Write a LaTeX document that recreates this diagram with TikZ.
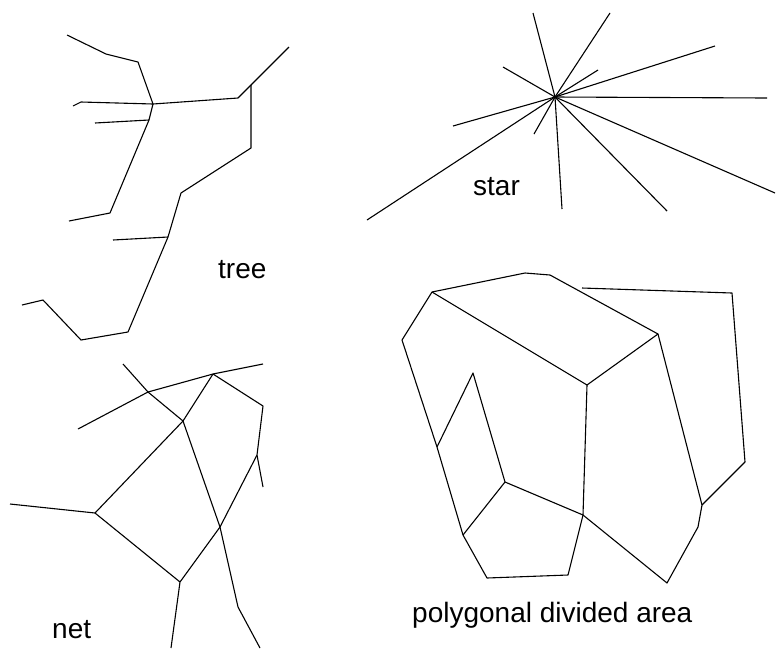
\documentclass[tikz,border=0pt]{standalone}
\usepackage{fontspec}
\setmainfont{Liberation Sans}
\begin{document}
\begin{tikzpicture}[x=1pt,y=-1pt,
  edge/.style={draw=black,line width=1.1pt,line join=round},
  lbl/.style={font=\fontsize{28}{32}\selectfont,inner sep=0pt,anchor=base west}]
\useasboundingbox (0,0) rectangle (776,649);
% ---------------- tree ----------------
\coordinate (t1) at (67,35);   \coordinate (t2) at (106,54);
\coordinate (t3) at (138,62);  \coordinate (tj) at (153,104);
\coordinate (t4) at (73,106);  \coordinate (t5) at (81,102);
\coordinate (t6) at (238,98);  \coordinate (tk) at (251,85);
\coordinate (t7) at (289,47);  \coordinate (t8) at (251,148);
\coordinate (t9) at (181,193); \coordinate (tm) at (168,237);
\coordinate (t10) at (128,332);\coordinate (t11) at (81,340);
\coordinate (t12) at (43,300); \coordinate (t13) at (22,305);
\coordinate (t14) at (113,240);\coordinate (tn) at (149,120);
\coordinate (t15) at (110,213);\coordinate (t16) at (69,221);
\coordinate (t17) at (95,123);
\draw[edge] (t1) -- (t2) -- (t3) -- (tj);
\draw[edge] (t4) -- (t5) -- (tj) -- (t6) -- (tk) -- (t7);
\draw[edge] (tk) -- (t8) -- (t9) -- (tm) -- (t10) -- (t11) -- (t12) -- (t13);
\draw[edge] (t14) -- (tm);
\draw[edge] (tj) -- (tn) -- (t15) -- (t16);
\draw[edge] (t17) -- (tn);
\node[lbl] (treelbl) at (218,278) {tree};
% ---------------- star ----------------
\coordinate (sc) at (555,97);
\coordinate (s1) at (533,13);  \coordinate (s2) at (610,13);
\coordinate (s3) at (715,46);  \coordinate (s4) at (598,70);
\coordinate (s5) at (767,98);  \coordinate (s6) at (775,193);
\coordinate (s7) at (667,211); \coordinate (s8) at (562,209);
\coordinate (s9) at (534,134); \coordinate (s10) at (367,220);
\coordinate (s11) at (453,126);\coordinate (s12) at (503,67);
\draw[edge] (sc) -- (s1);  \draw[edge] (sc) -- (s2);
\draw[edge] (sc) -- (s3);  \draw[edge] (sc) -- (s4);
\draw[edge] (sc) -- (s5);  \draw[edge] (sc) -- (s6);
\draw[edge] (sc) -- (s7);  \draw[edge] (sc) -- (s8);
\draw[edge] (sc) -- (s9);  \draw[edge] (sc) -- (s10);
\draw[edge] (sc) -- (s11); \draw[edge] (sc) -- (s12);
\fill[black] (sc) circle (1.6);
\node[lbl] (starlbl) at (473,195) {star};
% ---------------- net ----------------
\coordinate (n1) at (123,364);  \coordinate (n2) at (148,392);
\coordinate (n3) at (183,421);  \coordinate (n4) at (220,527);
\coordinate (n5) at (238,607);  \coordinate (n6) at (260,648);
\coordinate (n7) at (78,429);   \coordinate (n8) at (213,374);
\coordinate (n9) at (263,364);  \coordinate (n10) at (263,406);
\coordinate (n11) at (257,455); \coordinate (n12) at (263,487);
\coordinate (n13) at (180,582); \coordinate (n14) at (171,648);
\coordinate (n15) at (95,513);  \coordinate (n16) at (10,504);
\draw[edge] (n1) -- (n2) -- (n3) -- (n4) -- (n5) -- (n6);
\draw[edge] (n7) -- (n2) -- (n8) -- (n9);
\draw[edge] (n8) -- (n10) -- (n11) -- (n12);
\draw[edge] (n11) -- (n4) -- (n13) -- (n14);
\draw[edge] (n8) -- (n3) -- (n15) -- (n16);
\draw[edge] (n15) -- (n13);
\node[lbl] (netlbl) at (52,638) {net};
% ---------------- polygonal divided area ----------------
\coordinate (p1) at (432,292);  \coordinate (p2) at (525,273);
\coordinate (p3) at (550,275);  \coordinate (p4) at (658,334);
\coordinate (p5) at (587,385);  \coordinate (p6) at (402,340);
\coordinate (p7) at (437,447);  \coordinate (p8) at (473,373);
\coordinate (p9) at (505,482);  \coordinate (p10) at (583,515);
\coordinate (p11) at (463,535); \coordinate (p12) at (487,578);
\coordinate (p13) at (568,575); \coordinate (p14) at (667,583);
\coordinate (p15) at (698,527); \coordinate (p16) at (702,505);
\coordinate (p17) at (745,462); \coordinate (p18) at (732,293);
\coordinate (p19) at (582,288);
\draw[edge] (p6) -- (p1) -- (p2) -- (p3) -- (p4) -- (p5);
\draw[edge] (p1) -- (p5) -- (p10);
\draw[edge] (p6) -- (p7) -- (p11) -- (p12) -- (p13) -- (p10);
\draw[edge] (p7) -- (p8) -- (p9) -- (p10);
\draw[edge] (p9) -- (p11);
\draw[edge] (p10) -- (p14) -- (p15) -- (p16) -- (p4);
\draw[edge] (p16) -- (p17) -- (p18) -- (p19);
\node[lbl] (polylbl) at (412,622) {polygonal divided area};
\end{tikzpicture}
\end{document}
